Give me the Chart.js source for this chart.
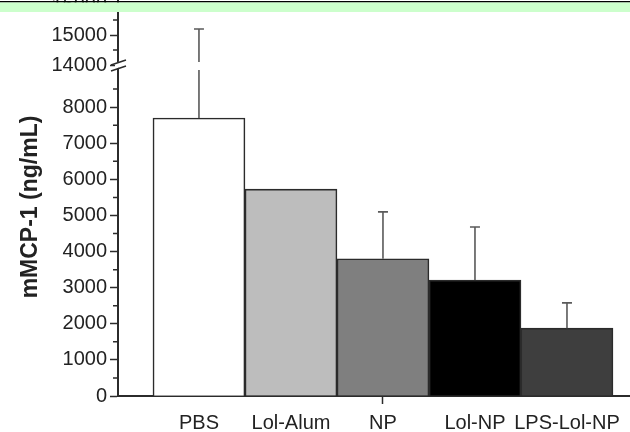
<!DOCTYPE html>
<html>
<head>
<meta charset="utf-8">
<script src="https://cdn.jsdelivr.net/npm/chart.js@4.4.0/dist/chart.umd.min.js"></script>
<style>
  html, body { margin: 0; padding: 0; background: #fff; }
</style>
</head>
<body>
<canvas id="mcpChart" width="630" height="432"></canvas>
<script>
const groups     = ['PBS', 'Lol-Alum', 'NP', 'Lol-NP', 'LPS-Lol-NP'];
const means      = [7700, 5730, 3800, 3210, 1880];
const errorTops  = [15200, null, 5100, 4680, 2580];
const barColors  = ['#ffffff', '#bdbdbd', '#7f7f7f', '#000000', '#3e3e3e'];
const lowerTicks = [0, 1000, 2000, 3000, 4000, 5000, 6000, 7000, 8000];
const lowerMinor = [500, 1500, 2500, 3500, 4500, 5500, 6500, 7500, 8500];
const upperTicks = [14000, 15000, 16000];
const upperMinor = [14500, 15500];

const axisColor = '#2b2b2b';
const textColor = '#222';
const tickFont  = { family: 'Liberation Sans', size: 20 };

// minor ticks, error bars, axis break, y title, green strip on top
const extras = {
    id: 'extras',
    afterDatasetsDraw(chart) {
        const c = chart.ctx;
        const xs = chart.scales.x, lo = chart.scales.y, hi = chart.scales.y2;
        const toPix = v => v <= lo.max ? lo.getPixelForValue(v) : hi.getPixelForValue(v);
        const brk = lo.top;

        c.save();
        c.strokeStyle = '#5a5a5a';
        c.lineWidth = 1.6;
        errorTops.forEach((top, i) => {
            if (top == null) return;
            const x = xs.getPixelForValue(i);
            const y0 = toPix(means[i]);
            const y1 = toPix(top);
            c.beginPath();
            if (top > lo.max) {
                c.moveTo(x, y0); c.lineTo(x, brk + 2);
                c.moveTo(x, brk - 6); c.lineTo(x, y1);
            } else {
                c.moveTo(x, y0); c.lineTo(x, y1);
            }
            c.moveTo(x - 5, y1); c.lineTo(x + 5, y1);
            c.stroke();
        });
        c.restore();
    },
    afterDraw(chart) {
        const c = chart.ctx;
        const lo = chart.scales.y, hi = chart.scales.y2;
        const ax = lo.right;
        const brk = lo.top;

        c.save();
        // minor ticks
        c.strokeStyle = axisColor;
        c.lineWidth = 1.5;
        c.beginPath();
        lowerMinor.forEach(v => { const y = lo.getPixelForValue(v); c.moveTo(ax - 5, y); c.lineTo(ax, y); });
        upperMinor.forEach(v => { const y = hi.getPixelForValue(v); c.moveTo(ax - 5, y); c.lineTo(ax, y); });
        c.stroke();

        // axis break
        c.fillStyle = '#fff';
        c.beginPath();
        c.moveTo(ax - 3, brk + 1); c.lineTo(ax + 3, brk - 1);
        c.lineTo(ax + 3, brk - 7); c.lineTo(ax - 3, brk - 5);
        c.closePath();
        c.fill();
        c.beginPath();
        c.moveTo(ax - 7, brk + 3); c.lineTo(ax + 8, brk - 2);
        c.moveTo(ax - 7, brk - 3); c.lineTo(ax + 8, brk - 8);
        c.stroke();

        // y title
        c.translate(31, 207);
        c.rotate(-Math.PI / 2);
        c.fillStyle = textColor;
        c.font = 'bold 23px "Liberation Sans"';
        c.textAlign = 'center';
        c.textBaseline = 'middle';
        c.fillText('mMCP-1 (ng/mL)', 0, 0);
        c.setTransform(1, 0, 0, 1, 0, 0);

        // strip at the top
        c.fillStyle = '#000';
        c.fillRect(0, 1, chart.width, 1.5);
        c.fillStyle = '#ccffcc';
        c.fillRect(0, 2.5, chart.width, 9.5);
        c.restore();
    }
};

new Chart(document.getElementById('mcpChart'), {
    type: 'bar',
    data: {
        datasets: [{
            data: means.map((v, i) => ({ x: i, y: v })),
            backgroundColor: barColors,
            borderColor: axisColor,
            borderWidth: 1.6,
            barPercentage: 1,
            categoryPercentage: 1,
            yAxisID: 'y'
        }]
    },
    options: {
        responsive: false,
        animation: false,
        devicePixelRatio: 1,
        layout: { padding: 0 },
        plugins: {
            legend: { display: false },
            tooltip: { enabled: false }
        },
        scales: {
            x: {
                type: 'linear',
                offset: false,
                min: -0.88,
                max: 4.685,
                afterBuildTicks: s => { s.ticks = groups.map((g, i) => ({ value: i })); },
                afterFit: s => { s.height = 36; s.paddingLeft = 0; s.paddingRight = 0; },
                grid: {
                    offset: false,
                    drawOnChartArea: false,
                    tickLength: 8,
                    tickWidth: 1.5,
                    tickColor: ctx => ctx.index === 2 ? axisColor : 'rgba(0,0,0,0)'
                },
                border: { color: axisColor, width: 2 },
                ticks: {
                    callback: (v, i) => groups[i],
                    color: textColor,
                    font: tickFont,
                    padding: 7,
                    maxRotation: 0,
                    autoSkip: false
                }
            },
            y: {
                type: 'linear',
                position: 'left',
                stack: 'axis',
                stackWeight: 328,
                min: 0,
                max: 9085,
                afterBuildTicks: s => { s.ticks = lowerTicks.map(v => ({ value: v })); },
                afterFit: s => { s.width = 118; s.paddingTop = 0; s.paddingBottom = 0; },
                grid: { drawOnChartArea: false, tickLength: 8, tickWidth: 1.5, tickColor: axisColor },
                border: { color: axisColor, width: 2 },
                ticks: { callback: v => String(v), color: textColor, font: tickFont, padding: 3, autoSkip: false }
            },
            y2: {
                type: 'linear',
                position: 'left',
                stack: 'axis',
                stackWeight: 68,
                min: 13900,
                max: 16167,
                afterBuildTicks: s => { s.ticks = upperTicks.map(v => ({ value: v })); },
                afterFit: s => { s.width = 118; s.paddingTop = 0; s.paddingBottom = 0; },
                grid: { drawOnChartArea: false, tickLength: 8, tickWidth: 1.5, tickColor: axisColor },
                border: { color: axisColor, width: 2 },
                ticks: { callback: v => String(v), color: textColor, font: tickFont, padding: 3, autoSkip: false }
            }
        }
    },
    plugins: [extras]
});
</script>
</body>
</html>
